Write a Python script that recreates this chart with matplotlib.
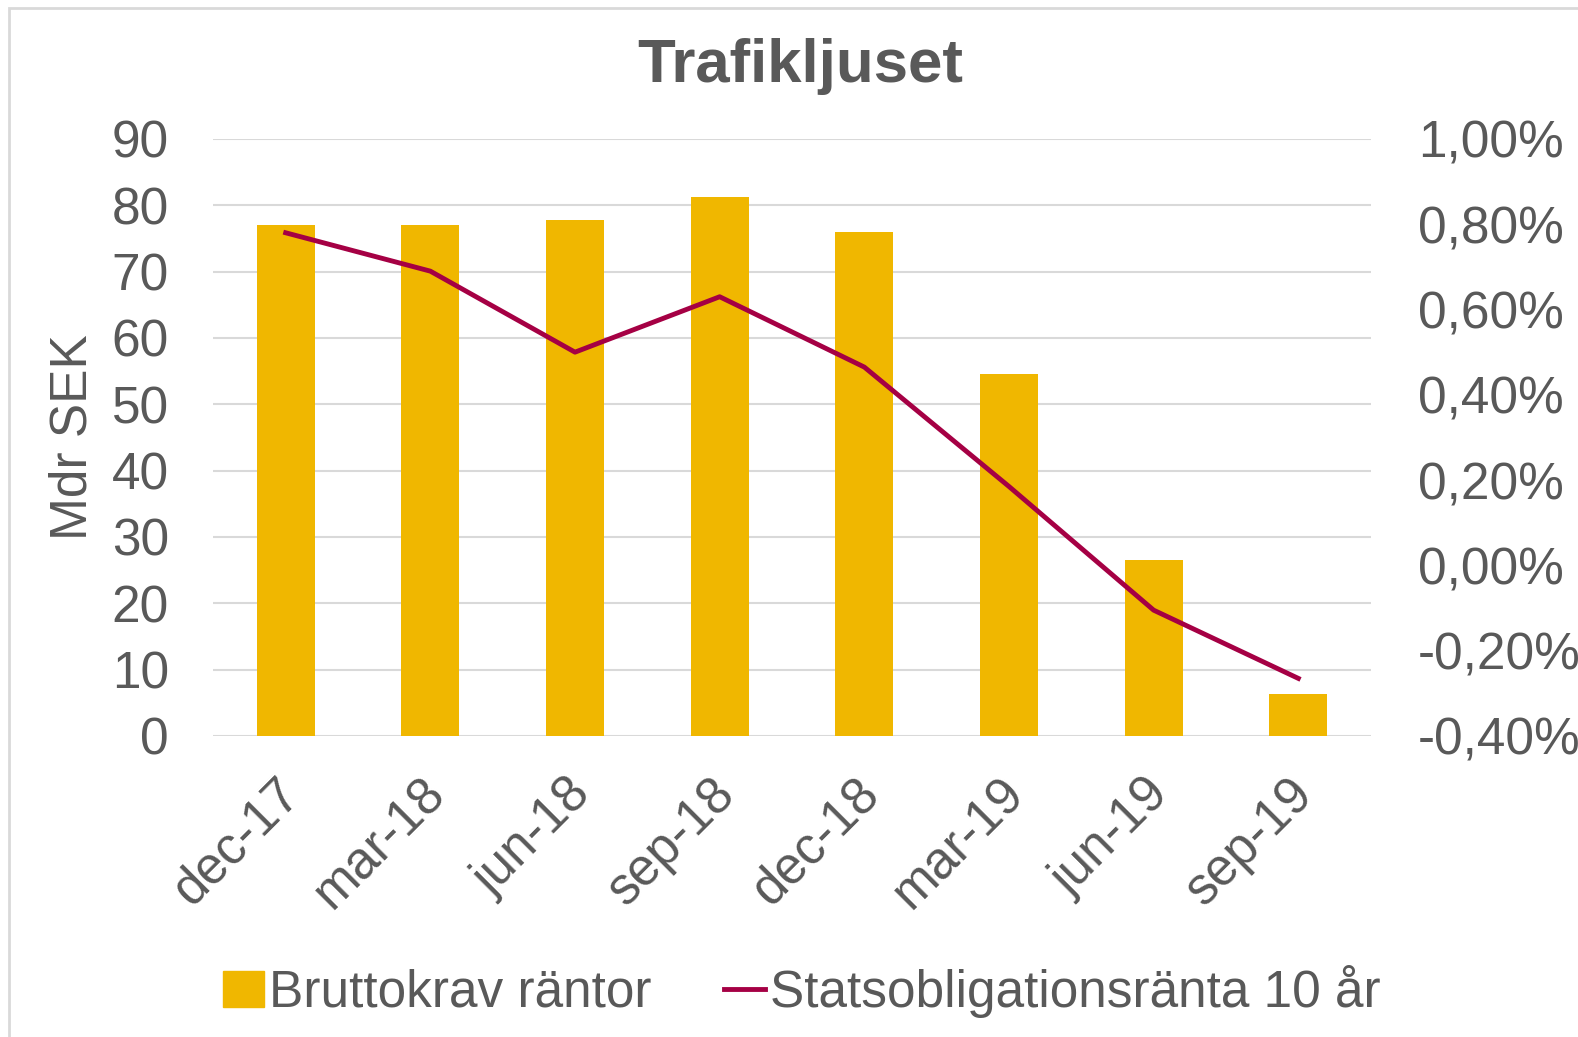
import matplotlib
matplotlib.use('Agg')
import matplotlib.pyplot as plt
from matplotlib.patches import Rectangle
from matplotlib.lines import Line2D
from matplotlib.transforms import ScaledTranslation
import numpy as np

plt.rcParams['font.family'] = ['Liberation Sans', 'DejaVu Sans']

# data
categories = ['dec-17', 'mar-18', 'jun-18', 'sep-18', 'dec-18', 'mar-19', 'jun-19', 'sep-19']
bruttokrav = [77.1, 77.1, 77.8, 81.2, 76.0, 54.5, 26.6, 6.4]
statsobl = [0.78, 0.69, 0.50, 0.63, 0.465, 0.185, -0.105, -0.265]
left_ticks = [0, 10, 20, 30, 40, 50, 60, 70, 80, 90]
right_ticks = [-0.4, -0.2, 0.0, 0.2, 0.4, 0.6, 0.8, 1.0]

text_col = '#595959'
bar_col = '#F0B700'
line_col = '#A50044'

fig = plt.figure(figsize=(15.78, 10.37), dpi=100)
ax = fig.add_axes([0.1352, 0.2903, 0.8686 - 0.1352, 0.866 - 0.2903])
ax2 = ax.twinx()

x = np.arange(len(categories))
ax.bar(x, bruttokrav, width=0.4, color=bar_col, zorder=2)
ax2.plot(x, statsobl, color=line_col, lw=3.5, zorder=3)

ax.set_xlim(-0.5, len(categories) - 0.5)
ax.set_ylim(0, 90)
ax.set_yticks(left_ticks)
ax2.set_ylim(-0.4, 1.0)
ax2.set_yticks(right_ticks)
ax2.set_yticklabels([('%.2f%%' % v).replace('.', ',').replace('-0,00', '0,00') for v in right_ticks])

ax.grid(axis='y', color='#d9d9d9', lw=1.5, zorder=0)
ax.set_axisbelow(True)
for a in (ax, ax2):
    for s in a.spines.values():
        s.set_visible(False)
    a.tick_params(length=0, labelsize=37, colors=text_col)
ax.tick_params(axis='y', pad=32)
ax2.tick_params(axis='y', pad=34)

ax.set_xticks(x)
ax.set_xticklabels(categories, rotation=45, ha='right', rotation_mode='anchor')
ax.tick_params(axis='x', pad=24)
shift = ScaledTranslation(-10 / 100, 0, fig.dpi_scale_trans)
for lab in ax.get_xticklabels():
    lab.set_transform(lab.get_transform() + shift)

ax.set_ylabel('Mdr SEK', fontsize=37, color=text_col, labelpad=10)

fig.text(0.507, 0.936, 'Trafikljuset', ha='center', va='center', fontsize=44.5,
         fontweight='bold', color=text_col)

handles = [Rectangle((0, 0), 1, 1, color=bar_col),
           Line2D([0], [0], color=line_col, lw=3.5)]
fig.legend(handles, ['Bruttokrav räntor', 'Statsobligationsränta 10 år'],
           loc='center', bbox_to_anchor=(0.508, 0.044), ncol=2, frameon=False,
           fontsize=37, labelcolor=text_col, handlelength=0.8, handletextpad=0.1,
           columnspacing=1.4)

fig.patches.append(Rectangle((0.006, -0.01), 1.1, 1.002, transform=fig.transFigure,
                             fill=False, edgecolor='#d9d9d9', lw=2))

fig.savefig('out.png', dpi=100)
